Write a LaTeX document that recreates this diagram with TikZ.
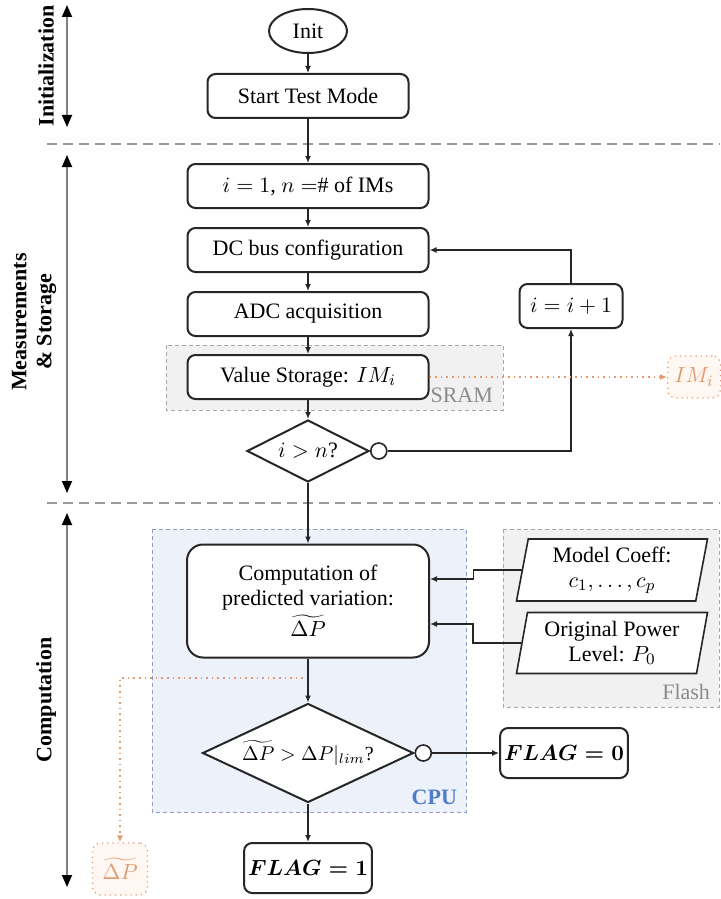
\documentclass[tikz,border=0pt]{standalone}
\usepackage{fontspec}
\setmainfont{Liberation Serif}
\usepackage{amsmath}
\usepackage{tikz}
\usetikzlibrary{calc}
\usetikzlibrary{arrows.meta}
\usetikzlibrary{shapes.geometric}
\newcommand\boxfont[0]{\fontsize{11}{12.5}\selectfont}

\definecolor{cpufill}{HTML}{EDF1FA}
\definecolor{cpuline}{HTML}{8E9DC2}
\definecolor{cputext}{HTML}{4F7DC9}
\definecolor{memfill}{HTML}{F1F1F1}
\definecolor{memline}{HTML}{A8A8A8}
\definecolor{memtext}{HTML}{8C8C8C}
\definecolor{orng}{HTML}{E39A6E}
\definecolor{orngfill}{HTML}{FEF7F2}

\tikzset{
  procbox/.style={draw=black!85, line width=1pt, rounded corners=4pt, fill=white, align=center, minimum height=22pt, inner sep=2pt, font=\boxfont},
  decide/.style={draw=black!85, line width=1pt, diamond, aspect=2.1, fill=white, inner sep=0pt, font=\boxfont},
  membox/.style={draw=black!85, line width=0.8pt, trapezium, trapezium left angle=77, trapezium right angle=103, trapezium stretches body, fill=white, align=center, inner sep=1pt, font=\boxfont},
  nocirc/.style={draw=black!85, line width=0.8pt, circle, fill=white, minimum size=8pt, inner sep=0pt},
  flow/.style={draw=black!85, line width=0.8pt, -{Latex[length=3.5pt,width=3pt]}},
  datalink/.style={draw=orng, line width=0.8pt, dotted, -{Latex[length=3.5pt,width=3pt]}},
  databox/.style={draw=orng, dotted, line width=0.6pt, rounded corners=4pt, fill=orngfill, text=orng, font=\boxfont},
  phase/.style={gray, line width=0.9pt, {Triangle[black,length=6pt,width=5pt]}-{Triangle[black,length=6pt,width=5pt]}},
  phaselabel/.style={rotate=90, align=center, font=\boxfont\bfseries},
  region/.style={dashed, line width=0.5pt, dash pattern=on 2pt off 1.5pt},
}

\begin{document}
\begin{tikzpicture}[x=0.5pt,y=-0.5pt]

\useasboundingbox (0,0) rectangle (720,899);

% memory and cpu regions
\draw[region, draw=memline, fill=memfill] (166,345) rectangle (503,410);
\draw[region, draw=cpuline, fill=cpufill] (152,529) rectangle (466,812);
\draw[region, draw=memline, fill=memfill] (503,529) rectangle (719,707);
\node[anchor=south east, text=memtext, font=\boxfont] (sram) at (500,410) {SRAM};
\node[anchor=south east, text=cputext, font=\boxfont\bfseries] (cpu) at (464,812) {CPU};
\node[anchor=south east, text=memtext, font=\boxfont] (flash) at (717,707) {Flash};

% phases
\draw[gray!80, dashed, line width=0.8pt, dash pattern=on 5pt off 3pt] (47,144)--(720,144);
\draw[gray!80, dashed, line width=0.8pt, dash pattern=on 5pt off 3pt] (47,503)--(720,503);

\coordinate (initTop) at (67,5);
\coordinate (initBot) at (67,127);
\coordinate (measTop) at (67,155);
\coordinate (measBot) at (67,493);
\coordinate (compTop) at (67,513);
\coordinate (compBot) at (67,887);
\draw[phase] (initTop)--(initBot);
\draw[phase] (measTop)--(measBot);
\draw[phase] (compTop)--(compBot);
\node[phaselabel] (lblInit) at (46,66) {Initialization};
\node[phaselabel] (lblMeas) at (34,322) {Measurements\\\& Storage};
\node[phaselabel] (lblComp) at (46,700) {Computation};

% flow
\node[draw=black!85, line width=1pt, ellipse, minimum width=39pt, minimum height=22pt, inner sep=0pt, font=\boxfont] (init) at (308,31) {Init};
\node[procbox, minimum width=100.5pt] (start) at (308,96) {Start Test Mode};
\node[procbox, minimum width=120.5pt] (ini) at (308,186) {$i=1$, $n=$\# of IMs};
\node[procbox, minimum width=120.5pt] (dcbus) at (308,250) {DC bus configuration};
\node[procbox, minimum width=120.5pt] (adc) at (308,314) {ADC acquisition};
\node[procbox, minimum width=120.5pt] (store) at (308,377) {Value Storage: $IM_i$};
\node[decide, minimum width=61pt, minimum height=31pt] (last) at (308,451) {$i>n$?};
\node[nocirc, anchor=west] (lastNo) at (last.east) {};
\node[procbox, minimum width=51.5pt] (incr) at (571,306) {$i=i+1$};
\node[databox, minimum width=25pt, minimum height=21pt] (imOut) at (694,377) {$IM_i$};

\node[procbox, rounded corners=8pt, minimum width=121pt, minimum height=56.5pt] (comp) at (308,601) {Computation of\\predicted variation:\\[1pt]$\widetilde{\Delta P}$};
\node[membox, minimum width=95.5pt, minimum height=31pt] (coeff) at (612,570) {Model Coeff:\\$c_1,\dots,c_p$};
\node[membox, minimum width=95.5pt, minimum height=30.5pt] (power) at (612,643) {Original Power\\Level: $P_0$};
\node[decide, minimum width=105.5pt, minimum height=49.5pt, font=\fontsize{10}{12}\selectfont] (check) at (308,753) {$\widetilde{\Delta P}>\Delta P|_{lim}$?};
\node[nocirc, anchor=west] (checkNo) at (check.east) {};
\node[procbox, minimum width=60.5pt, minimum height=25pt] (flagZero) at (564,753) {$\boldsymbol{FLAG=0}$};
\node[procbox, minimum width=60.5pt, minimum height=25pt] (flagOne) at (308,868) {$\boldsymbol{FLAG=1}$};
\node[databox, minimum width=27.5pt, minimum height=26pt] (dpOut) at (120,869) {$\widetilde{\Delta P}$};

\draw[flow] (init)--(start);
\draw[flow] (start)--(ini);
\draw[flow] (ini)--(dcbus);
\draw[flow] (dcbus)--(adc);
\draw[flow] (adc)--(store);
\draw[flow] (store)--(last);
\draw[flow] (lastNo.east)--(lastNo.east -| incr.south)--(incr.south);
\draw[flow] (incr.north)|-(dcbus.east);
\draw[datalink] (store.east)--(imOut.west);

\draw[flow] (last)--(comp);
\coordinate (inCoeff) at ($(comp.east)+(0,-22)$);
\coordinate (inPower) at ($(comp.east)+(0,23)$);
\draw[flow] (coeff.west)--++(-48,0)|-(inCoeff);
\draw[flow] (power.west)--++(-48,0)|-(inPower);
\draw[flow] (comp)--(check);
\coordinate (tap) at (303,678);
\draw[datalink] (tap)-|(dpOut.north);
\draw[flow] (checkNo.east)--(flagZero.west);
\draw[flow] (check)--(flagOne);

\end{tikzpicture}
\end{document}
